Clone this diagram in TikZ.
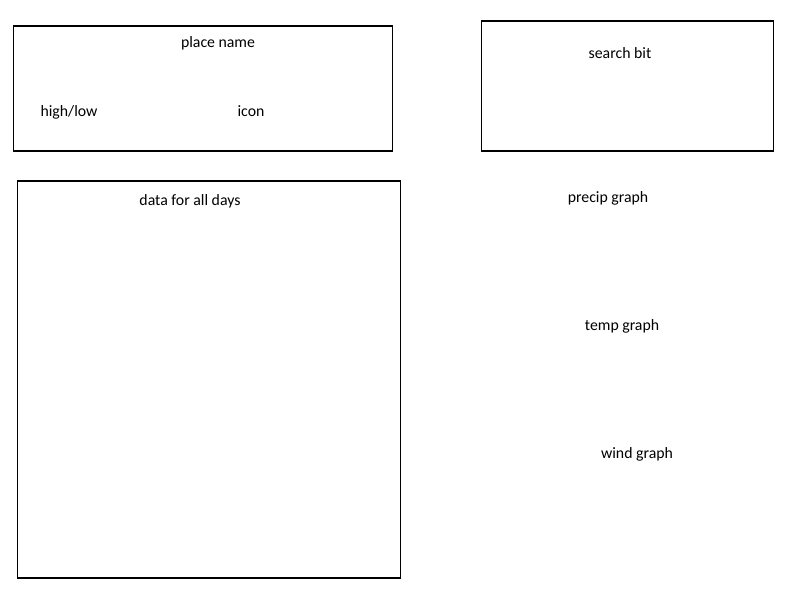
\documentclass[tikz,border=0pt]{standalone}
\usepackage{fontspec}
\setmainfont{Carlito}
\begin{document}
\begin{tikzpicture}[x=1pt,y=-1pt,
  panel/.style={draw=black,line width=1.8pt},
  lbl/.style={font=\fontsize{15.8}{18}\selectfont,inner sep=0pt}]
\useasboundingbox[fill=white] (0,0) rectangle (800,600);
\node[panel,minimum width=379pt,minimum height=125pt,anchor=north west] (place) at (12.5,25) {};
\node[panel,minimum width=292pt,minimum height=130pt,anchor=north west] (search) at (480.5,20) {};
\node[panel,minimum width=383pt,minimum height=397pt,anchor=north west] (days) at (16.5,180) {};
\node[lbl] (placename) at (218,43) {place name};
\node[lbl] (highlow) at (69,112) {high/low};
\node[lbl] (icon) at (251,111) {icon};
\node[lbl] (searchbit) at (620,53) {search bit};
\node[lbl] (datadays) at (190,201) {data for all days};
\node[lbl] (precip) at (608,198) {precip graph};
\node[lbl] (temp) at (622,326) {temp graph};
\node[lbl] (wind) at (637,454) {wind graph};
\end{tikzpicture}
\end{document}
